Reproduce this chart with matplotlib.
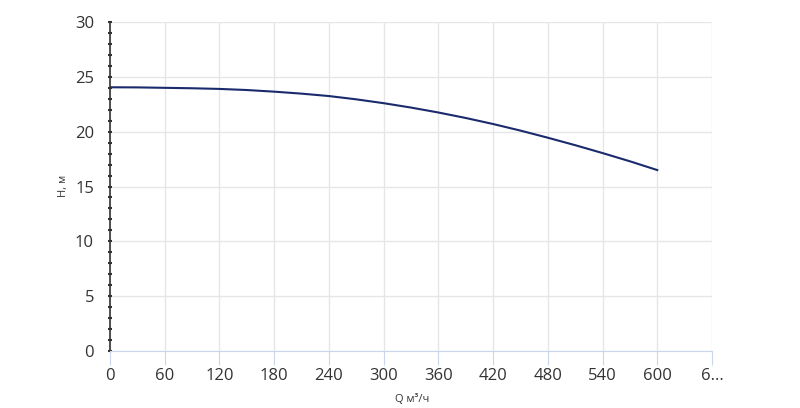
import matplotlib
matplotlib.use("Agg")
import matplotlib.pyplot as plt
from matplotlib.ticker import MultipleLocator

plt.rcParams['font.family'] = ['Open Sans', 'DejaVu Sans']

q = [0, 30, 60, 90, 120, 150, 180, 210, 240, 270, 300, 330, 360, 390, 420, 450, 480, 510, 540, 570, 600]
h = [24.05, 24.04, 24.0, 23.96, 23.9, 23.8, 23.65, 23.47, 23.25, 22.95, 22.6, 22.2, 21.75, 21.25, 20.7, 20.1, 19.45, 18.77, 18.05, 17.3, 16.5]
xticks = [0, 60, 120, 180, 240, 300, 360, 420, 480, 540, 600, 660]
xlabels = ["0", "60", "120", "180", "240", "300", "360", "420", "480", "540", "600", "6..."]
yticks = [0, 5, 10, 15, 20, 25, 30]

fig = plt.figure(figsize=(8, 4.08), dpi=100)
ax = fig.add_axes([0.1375, 0.1397, 0.7525, 0.8063])
ax.plot(q, h, color="#1a2a6c", lw=1.5)
ax.set_xlim(0, 660)
ax.set_ylim(0, 30)
ax.set_xticks(xticks)
ax.set_xticklabels(xlabels)
ax.set_yticks(yticks)
ax.yaxis.set_minor_locator(MultipleLocator(1))
ax.grid(True, which="major", color="#e6e6e6", lw=1)
for s in ["top", "right"]:
    ax.spines[s].set_visible(False)
ax.spines["bottom"].set_color("#ccd6eb")
ax.spines["left"].set_color("#333333")
ax.spines["left"].set_linewidth(1.2)
ax.tick_params(axis="y", which="major", length=3, width=1.5, direction="inout", color="#333333", pad=10, labelsize=12, labelcolor="#333333")
ax.tick_params(axis="y", which="minor", length=3, width=1.5, direction="inout", color="#333333")
ax.tick_params(axis="x", length=10, color="#ccd6eb", pad=2, labelsize=12, labelcolor="#333333")
fig.text(0.079, 0.545, "H, м", fontsize=8, color="#333333", rotation=90, ha="center", va="center")
fig.text(0.515, 0.022, "Q м³/ч", fontsize=8, color="#333333", ha="center", va="center")
fig.savefig("out.png")
